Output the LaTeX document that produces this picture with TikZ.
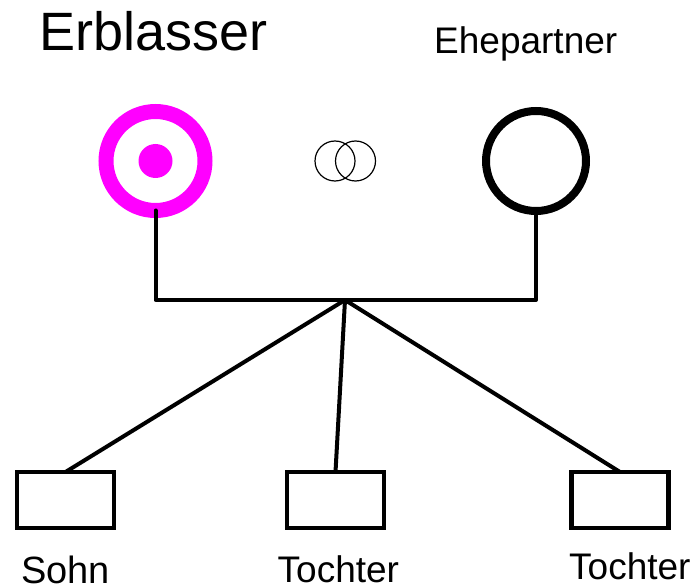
\documentclass[tikz,border=0pt]{standalone}
\usepackage{fontspec}
\setmainfont{Liberation Sans}
\definecolor{erbfarbe}{RGB}{255,0,255}

\begin{document}
\begin{tikzpicture}[x=1pt,y=-1pt,
    person/.style={draw,circle,inner sep=0pt,outer sep=0pt},
    kind/.style={draw,rectangle,line width=4.5pt,minimum width=97pt,minimum height=56pt,inner sep=0pt,outer sep=0pt},
    ehering/.style={draw,circle,line width=1.2pt,minimum size=40pt,inner sep=0pt},
    titel/.style={inner sep=0pt,anchor=base west},
    linie/.style={line width=4pt,line cap=round,line join=round}]
\useasboundingbox (0,0) rectangle (696,588);

% Eltern
\node[person,draw=erbfarbe,line width=15pt,minimum size=99pt] (erblasser) at (155.5,161) {};
\node[person,draw=none,fill=erbfarbe,minimum size=34pt] (erbpunkt) at (erblasser.center) {};
\node[person,line width=8pt,minimum size=100pt] (ehepartner) at (536,161) {};

% Ehe
\node[ehering] (ringA) at (335,161) {};
\node[ehering] (ringB) at (355.5,161) {};

% Kinder
\coordinate (mitte) at (345,300);
\node[kind] (sohn) at (65.5,500) {};
\node[kind] (tochterA) at (335.5,500) {};
\node[kind] (tochterB) at (620,500) {};

\draw[linie] (erblasser.south) -- (erblasser.south |- mitte)
    -- (ehepartner.south |- mitte) -- (ehepartner.south);
\foreach \k in {sohn,tochterA,tochterB}
    \draw[linie] (mitte) -- (\k.north);

% Beschriftung
\node[titel,font=\fontsize{54}{60}\selectfont] (tErblasser) at (39,51) {Erblasser};
\node[titel,font=\fontsize{37}{42}\selectfont] (tEhepartner) at (434,54) {Ehepartner};
\node[titel,font=\fontsize{38}{42}\selectfont] (tSohn) at (21,583.5) {Sohn};
\node[titel,font=\fontsize{37}{42}\selectfont] (tTochterA) at (277.5,582) {Tochter};
\node[titel,font=\fontsize{37}{42}\selectfont] (tTochterB) at (569,579.5) {Tochter};
\end{tikzpicture}
\end{document}
